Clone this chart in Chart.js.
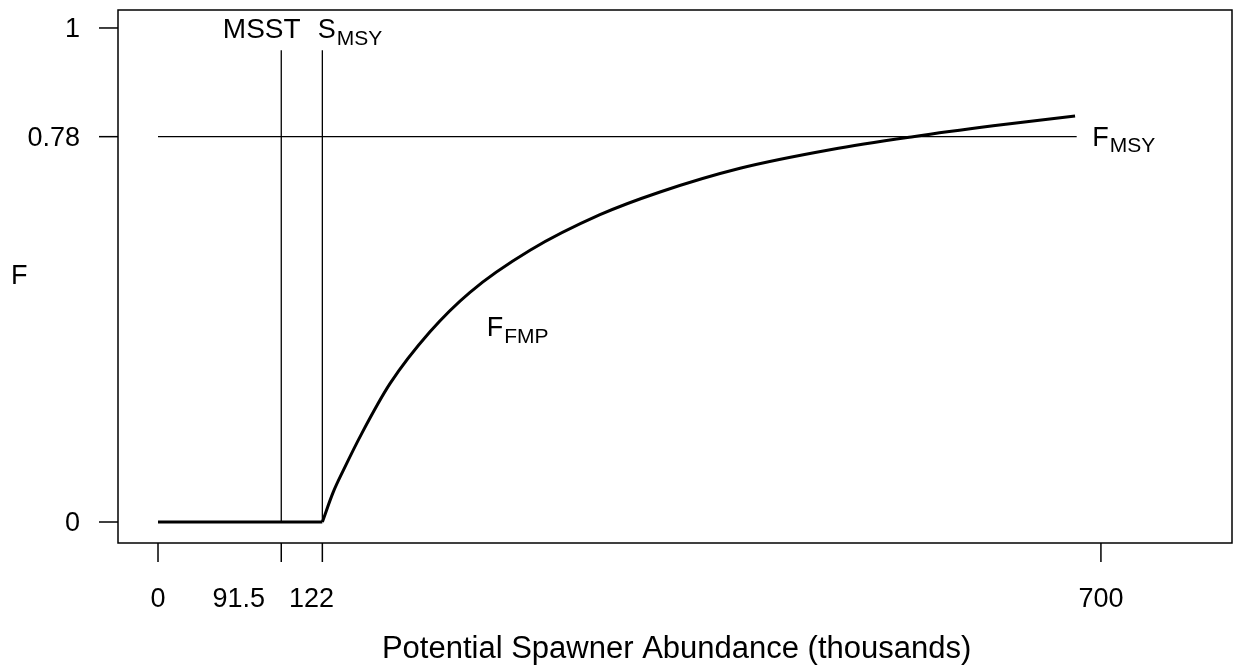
<!DOCTYPE html>
<html>
<head>
<meta charset="utf-8">
<script src="https://cdn.jsdelivr.net/npm/chart.js@4"></script>
<style>
  body { margin: 0; background: #fff; }
  #wrap { width: 1236px; height: 667px; }
</style>
</head>
<body>
<div id="wrap"><canvas id="hcrChart" width="1236" height="667"></canvas></div>
<script>
// tick values and where their labels sit (labels are nudged apart like the original)
const xTicks = [0, 91.5, 122, 700];
const xTickLabelAt = [0, 60, 114, 700];
const yTicks = [0, 0.78, 1];

// F = 0 below S_MSY
const flatS = [0, 122];
const flatF = [0, 0];

// F_FMP curve
const curveS = [122, 130, 137.3, 151.4, 172.2, 201.9, 231.6, 276.2, 328.1, 372.7, 432.1, 500, 560.5, 620, 680.8];
const curveF = [0, 0.06, 0.103, 0.18, 0.28, 0.385, 0.465, 0.55, 0.622, 0.668, 0.716, 0.754, 0.78, 0.802, 0.822];

// reference points
const msst = 91.5;
const smsy = 122;
const fmsy = 0.78;
const refLineTop = 0.955;
const fmsyLineEnd = 682;

const FONT = '"Liberation Sans", Arial, sans-serif';

function pts(xs, ys) {
    return xs.map((x, i) => ({ x: x, y: ys[i] }));
}

function drawSub(ctx, main, sub, x, y, size) {
    ctx.textAlign = "left";
    ctx.textBaseline = "alphabetic";
    ctx.font = size + "px " + FONT;
    ctx.fillText(main, x, y);
    const w = ctx.measureText(main).width;
    ctx.font = Math.round(size * 0.76) + "px " + FONT;
    ctx.fillText(sub, x + w + 1, y + size * 0.25);
}

// box, ticks, labels and annotations
const framePlugin = {
    id: "frame",
    afterDraw(chart) {
        const ctx = chart.ctx;
        const a = chart.chartArea;
        const xs = chart.scales.x;
        const ys = chart.scales.y;
        ctx.save();
        ctx.strokeStyle = "#000";
        ctx.fillStyle = "#000";
        ctx.lineWidth = 1.5;
        ctx.strokeRect(a.left, a.top, a.right - a.left, a.bottom - a.top);

        // x axis
        ctx.font = "27px " + FONT;
        ctx.textAlign = "center";
        ctx.textBaseline = "middle";
        xTicks.forEach((v, i) => {
            const px = xs.getPixelForValue(v);
            ctx.beginPath();
            ctx.moveTo(px, a.bottom);
            ctx.lineTo(px, a.bottom + 19);
            ctx.stroke();
            ctx.fillText(String(v), xs.getPixelForValue(xTickLabelAt[i]), a.bottom + 57);
        });
        ctx.font = "31px " + FONT;
        ctx.fillText("Potential Spawner Abundance (thousands)", xs.getPixelForValue(385), a.bottom + 106);

        // y axis
        ctx.font = "27px " + FONT;
        ctx.textAlign = "right";
        yTicks.forEach(v => {
            const py = ys.getPixelForValue(v);
            ctx.beginPath();
            ctx.moveTo(a.left, py);
            ctx.lineTo(a.left - 19, py);
            ctx.stroke();
            ctx.fillText(String(v), a.left - 38, py + 2);
        });
        ctx.textAlign = "left";
        ctx.fillText("F", 11, ys.getPixelForValue(0.5) + 2);

        // annotations
        ctx.textAlign = "center";
        ctx.textBaseline = "alphabetic";
        ctx.font = "28px " + FONT;
        ctx.fillText("MSST", xs.getPixelForValue(77), ys.getPixelForValue(1) + 10);
        drawSub(ctx, "S", "MSY", xs.getPixelForValue(118.5), ys.getPixelForValue(1) + 10, 27);
        drawSub(ctx, "F", "MSY", xs.getPixelForValue(693.5), ys.getPixelForValue(fmsy) + 9, 27);
        drawSub(ctx, "F", "FMP", xs.getPixelForValue(244), ys.getPixelForValue(0.395) + 9, 27);
        ctx.restore();
    }
};

const thin = { borderColor: "#000", borderWidth: 1.3, pointRadius: 0, fill: false };

new Chart(document.getElementById("hcrChart"), {
    type: "line",
    data: {
        datasets: [
            Object.assign({ data: pts([msst, msst], [0, refLineTop]) }, thin),
            Object.assign({ data: pts([smsy, smsy], [0, refLineTop]) }, thin),
            Object.assign({ data: pts([0, fmsyLineEnd], [fmsy, fmsy]) }, thin),
            {
                data: pts(flatS, flatF),
                borderColor: "#000",
                borderWidth: 3,
                pointRadius: 0
            },
            {
                data: pts(curveS, curveF),
                borderColor: "#000",
                borderWidth: 3,
                pointRadius: 0,
                cubicInterpolationMode: "monotone"
            }
        ]
    },
    options: {
        responsive: false,
        animation: false,
        layout: { padding: { left: 118, right: 4, top: 10, bottom: 124 } },
        scales: {
            x: { type: "linear", min: -29.7, max: 797.3, display: false },
            y: { type: "linear", min: -0.0425, max: 1.0364, display: false }
        },
        plugins: {
            legend: { display: false },
            tooltip: { enabled: false }
        }
    },
    plugins: [framePlugin]
});
</script>
</body>
</html>
